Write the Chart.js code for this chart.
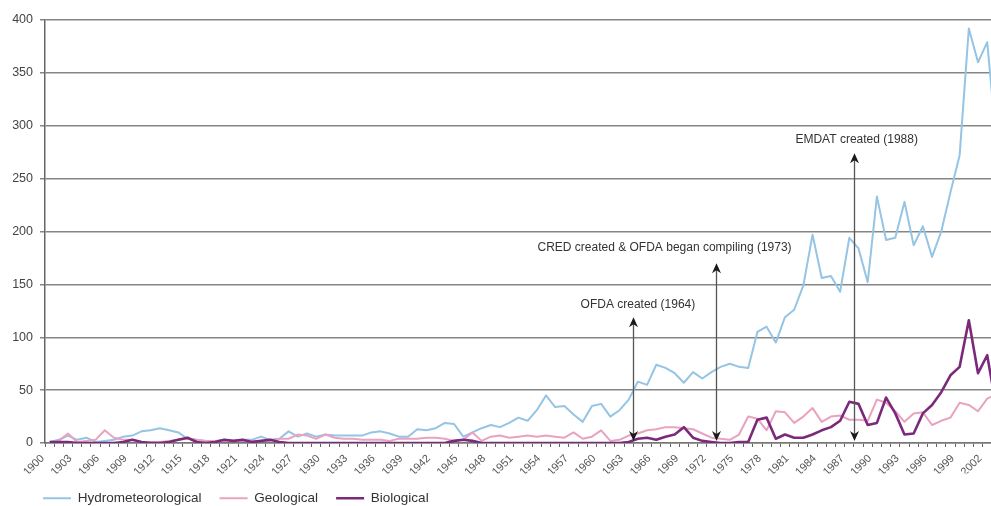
<!DOCTYPE html>
<html>
<head>
<meta charset="utf-8">
<script src="https://cdn.jsdelivr.net/npm/chart.js@4/dist/chart.umd.min.js"></script>
<style>
  html, body { margin: 0; padding: 0; background: #fff; overflow: hidden; }
  #wrap { width: 1001px; height: 506px; }
</style>
</head>
<body>
<div id="wrap"><canvas id="chart"></canvas></div>
<script>
// Categories: one per year, 1900-2003 (the last year is cut off at the right edge)
const years = [];
for (let y = 1900; y <= 2003; y++) years.push(String(y));

// Number of reported disasters per year
const hydrometeorological = [
    1, 3, 7, 3, 5, 1, 2, 3, 6, 7,            // 1900s
    11, 12, 14, 12, 10, 4, 3, 2, 2, 3,       // 1910s
    2, 3, 3, 6, 3, 4, 11, 6, 9, 6,           // 1920s
    8, 7, 7, 7, 7, 10, 11, 9, 6, 6,          // 1930s
    13, 12, 14, 19, 18, 6, 10, 14, 17, 15,   // 1940s
    19, 24, 21, 31, 45, 34, 35, 27, 20, 35,  // 1950s
    37, 25, 31, 41, 58, 55, 74, 71, 66, 57,  // 1960s
    67, 61, 67, 72, 75, 72, 71, 105, 110, 95,        // 1970s
    119, 126, 149, 197, 156, 158, 143, 194, 184, 152, // 1980s
    233, 192, 194, 228, 187, 205, 176, 200, 237, 272, // 1990s
    392, 360, 379, 285                                // 2000s
];
const geological = [
    0, 2, 9, 1, 2, 3, 12, 5, 3, 3,
    1, 1, 1, 2, 3, 4, 3, 2, 2, 2,
    2, 2, 2, 2, 2, 4, 4, 8, 7, 4,
    8, 5, 4, 4, 3, 3, 3, 2, 4, 4,
    4, 5, 5, 4, 2, 3, 10, 2, 6, 7,
    5, 6, 7, 6, 7, 6, 5, 10, 4, 6,
    12, 2, 3, 7, 9, 12, 13, 15, 15, 14,
    13, 9, 5, 4, 3, 8, 25, 23, 12, 30,
    29, 19, 25, 33, 20, 25, 26, 22, 22, 21,
    41, 38, 30, 20, 28, 29, 17, 21, 24, 38,
    36, 30, 42, 46
];
const biological = [
    1, 1, 1, 0, 0, 0, 0, 0, 1, 3,
    1, 0, 0, 1, 3, 5, 1, 0, 1, 3,
    2, 3, 1, 2, 3, 1, 0, 0, 0, 0,
    0, 0, 0, 0, 0, 0, 0, 0, 0, 0,
    0, 0, 0, 0, 2, 3, 2, 0, 0, 0,
    0, 0, 0, 0, 0, 0, 0, 0, 0, 0,
    0, 0, 0, 1, 4, 5, 3, 6, 8, 15,
    5, 2, 1, 0, 0, 1, 1, 22, 24, 4,
    8, 5, 5, 8, 12, 15, 21, 39, 37, 17,
    19, 43, 28, 8, 9, 28, 36, 48, 64, 72,
    116, 66, 83, 33
];

// Y axis ticks
const yTicks = [0, 50, 100, 150, 200, 250, 300, 350, 400];

// Milestones marked with double arrows
const eventYears = [1964, 1973, 1988];
const eventTops = [119, 170, 274];
const eventLabels = [
    'OFDA created (1964)',
    'CRED created & OFDA began compiling (1973)',
    'EMDAT created (1988)'
];

// where each milestone caption sits (in year / value units)
const captionAt = [
    { year: 1964.0, value: 131 },
    { year: 1966.9, value: 185 },
    { year: 1987.8, value: 287 }
];

const FONT = '"Liberation Sans", Arial, sans-serif';

const milestonePlugin = {
    id: 'milestones',
    afterLayout(chart) {
        // legend starts under the plot, not at the canvas edge
        chart.legend.left += 25;
    },
    afterDatasetsDraw(chart) {
        const { ctx, scales: { x, y } } = chart;
        ctx.save();
        eventYears.forEach((yr, i) => {
            const px = Math.round(x.getPixelForValue(yr - 1900 - 0.5)) + 0.5;
            const top = y.getPixelForValue(eventTops[i]);
            const bottom = y.getPixelForValue(2);
            ctx.strokeStyle = '#555';
            ctx.lineWidth = 1.3;
            ctx.beginPath();
            ctx.moveTo(px, top + 6);
            ctx.lineTo(px, bottom - 6);
            ctx.stroke();
            ctx.fillStyle = '#1a1a1a';
            arrowHead(ctx, px, top, -1);
            arrowHead(ctx, px, bottom, 1);

            ctx.fillStyle = '#333';
            ctx.font = '12px ' + FONT;
            ctx.textAlign = 'center';
            ctx.textBaseline = 'middle';
            const c = captionAt[i];
            ctx.fillText(eventLabels[i], x.getPixelForValue(c.year - 1900), y.getPixelForValue(c.value));
        });
        ctx.restore();
    }
};

function arrowHead(ctx, x, tipY, dir) {
    ctx.beginPath();
    ctx.moveTo(x, tipY);
    ctx.lineTo(x - 4.5, tipY - dir * 10);
    ctx.lineTo(x, tipY - dir * 7);
    ctx.lineTo(x + 4.5, tipY - dir * 10);
    ctx.closePath();
    ctx.fill();
}

new Chart(document.getElementById('chart'), {
    type: 'line',
    data: {
        labels: years,
        datasets: [
            { label: 'Hydrometeorological', data: hydrometeorological, borderColor: '#95c4e4', borderWidth: 2, order: 2 },
            { label: 'Geological', data: geological, borderColor: '#e9a2bf', borderWidth: 2, order: 1 },
            { label: 'Biological', data: biological, borderColor: '#7b2a7b', borderWidth: 2.6, order: 0 }
        ]
    },
    options: {
        responsive: true,
        maintainAspectRatio: false,
        animation: false,
        elements: {
            point: { radius: 0 },
            line: { tension: 0, borderJoinStyle: 'round' }
        },
        layout: { padding: { left: 0, top: 20, right: 0, bottom: -9 } },
        plugins: {
            legend: {
                position: 'bottom',
                align: 'start',
                labels: {
                    usePointStyle: true,
                    pointStyle: 'line',
                    pointStyleWidth: 28,
                    padding: 18,
                    color: '#333',
                    font: { family: FONT, size: 13.5 },
                    sort: (a, b) => a.datasetIndex - b.datasetIndex
                }
            },
            tooltip: { enabled: false }
        },
        scales: {
            x: {
                offset: true,
                grid: { drawOnChartArea: false, color: '#666', tickLength: 4, offset: true },
                border: { color: '#777', width: 1.5 },
                ticks: {
                    autoSkip: false,
                    minRotation: 45,
                    maxRotation: 45,
                    padding: 5,
                    labelOffset: -7,
                    color: '#555',
                    font: { family: FONT, size: 11 },
                    callback: function (val, idx) {
                        return idx % 3 === 0 ? years[idx] : '';
                    }
                },
                afterFit: s => { s.height = 30.5; s.paddingLeft = 0; s.paddingRight = 0; }
            },
            y: {
                min: 0,
                max: 400,
                afterBuildTicks: s => { s.ticks = yTicks.map(v => ({ value: v })); },
                grid: { color: '#858585', lineWidth: 1.5, tickLength: 5 },
                border: { color: '#666', width: 1.5 },
                ticks: {
                    padding: 7,
                    color: '#444',
                    font: { family: FONT, size: 12.5 }
                },
                afterFit: s => { s.width = 45; }
            }
        }
    },
    plugins: [milestonePlugin]
});
</script>
</body>
</html>
